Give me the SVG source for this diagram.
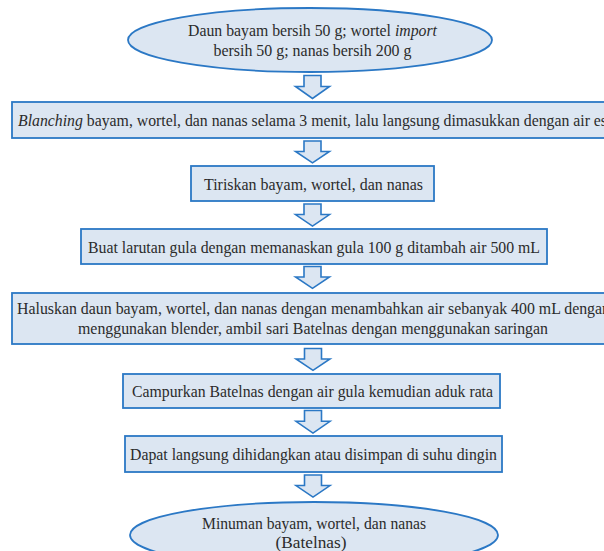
<svg xmlns="http://www.w3.org/2000/svg" width="604" height="551" viewBox="0 0 604 551">
<style>
.n{fill:#dce6f2;stroke:#2b78c5;stroke-width:1.8}
.t{font-family:"Liberation Serif","DejaVu Serif",serif;font-size:17px;fill:#2b2b2b;text-anchor:middle}
.a{fill:#dce6f2;stroke:#2b78c5;stroke-width:1.6;stroke-linejoin:miter}
</style>
<defs>
<path id="arr" d="M-8.5,0 H8.5 V11 H17 L0,23 L-17,11 H-8.5 Z"/>
</defs>
<rect width="604" height="551" fill="#ffffff"/>
<g id="connectors">
<use href="#arr" class="a" transform="translate(312.5,75.5)"/>
<use href="#arr" class="a" transform="translate(312.5,141) scale(1,0.95)"/>
<use href="#arr" class="a" transform="translate(312.5,204) scale(1,0.96)"/>
<use href="#arr" class="a" transform="translate(312.5,266.5) scale(1,0.95)"/>
<use href="#arr" class="a" transform="translate(313,348.5) scale(1,0.95)"/>
<use href="#arr" class="a" transform="translate(313,410.5) scale(1,0.98)"/>
<use href="#arr" class="a" transform="translate(313,475) scale(1,0.96)"/>
</g>
<g id="n1">
<ellipse class="n" cx="310" cy="40" rx="182" ry="32"/>
<text class="t" x="312.5" y="36" textLength="249" lengthAdjust="spacingAndGlyphs">Daun bayam bersih 50 g; wortel <tspan font-style="italic">import</tspan></text>
<text class="t" x="312.5" y="56" textLength="198" lengthAdjust="spacingAndGlyphs">bersih 50 g; nanas bersih 200 g</text>
</g>
<g id="n2">
<rect class="n" x="12" y="102" width="620" height="36"/>
<text class="t" x="18" y="125.5" style="text-anchor:start" textLength="589" lengthAdjust="spacingAndGlyphs"><tspan font-style="italic">Blanching</tspan> bayam, wortel, dan nanas selama 3 menit, lalu langsung dimasukkan dengan air es</text>
</g>
<g id="n3">
<rect class="n" x="191" y="166" width="243" height="35"/>
<text class="t" x="313.5" y="189.5" textLength="219" lengthAdjust="spacingAndGlyphs">Tiriskan bayam, wortel, dan nanas</text>
</g>
<g id="n4">
<rect class="n" x="81" y="229" width="466" height="35"/>
<text class="t" x="314" y="252.5" textLength="452" lengthAdjust="spacingAndGlyphs">Buat larutan gula dengan memanaskan gula 100 g ditambah air 500 mL</text>
</g>
<g id="n5">
<rect class="n" x="12" y="293" width="620" height="51"/>
<text class="t" x="17" y="313.5" style="text-anchor:start" textLength="593" lengthAdjust="spacingAndGlyphs">Haluskan daun bayam, wortel, dan nanas dengan menambahkan air sebanyak 400 mL dengan</text>
<text class="t" x="313" y="333.5" textLength="470" lengthAdjust="spacingAndGlyphs">menggunakan blender, ambil sari Batelnas dengan menggunakan saringan</text>
</g>
<g id="n6">
<rect class="n" x="123" y="374" width="377" height="34"/>
<text class="t" x="312.5" y="396.5" textLength="361" lengthAdjust="spacingAndGlyphs">Campurkan Batelnas dengan air gula kemudian aduk rata</text>
</g>
<g id="n7">
<rect class="n" x="125" y="436" width="377" height="36"/>
<text class="t" x="313.5" y="459.5" textLength="367" lengthAdjust="spacingAndGlyphs">Dapat langsung dihidangkan atau disimpan di suhu dingin</text>
</g>
<g id="n8">
<ellipse class="n" cx="314" cy="535" rx="184" ry="33"/>
<text class="t" x="314" y="528.5" textLength="224" lengthAdjust="spacingAndGlyphs">Minuman bayam, wortel, dan nanas</text>
<text class="t" x="311" y="548" textLength="71" lengthAdjust="spacingAndGlyphs">(Batelnas)</text>
</g>
</svg>
